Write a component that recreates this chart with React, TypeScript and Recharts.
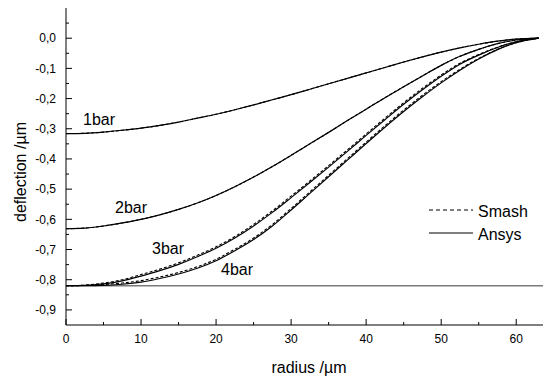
import { LineChart, Line, XAxis, YAxis, ReferenceLine } from "recharts"

// radius in µm, deflection in µm
const radius = [0, 2.5, 5, 7.5, 10, 12.5, 15, 17.5, 20, 22.5, 25, 27.5, 30, 32.5, 35, 37.5, 40, 42.5, 45, 47.5, 50, 52.5, 55, 57.5, 60, 63]

const ansys1 = [-0.316, -0.315, -0.311, -0.305, -0.298, -0.289, -0.278, -0.265, -0.252, -0.237, -0.221, -0.204, -0.187, -0.169, -0.151, -0.133, -0.115, -0.097, -0.079, -0.062, -0.046, -0.032, -0.020, -0.010, -0.003, 0]
const smash1 = [-0.316, -0.315, -0.311, -0.305, -0.298, -0.289, -0.278, -0.265, -0.252, -0.237, -0.221, -0.204, -0.187, -0.169, -0.151, -0.133, -0.115, -0.097, -0.079, -0.062, -0.046, -0.032, -0.020, -0.010, -0.003, 0]
const ansys2 = [-0.631, -0.629, -0.622, -0.612, -0.600, -0.585, -0.567, -0.546, -0.521, -0.492, -0.460, -0.425, -0.388, -0.350, -0.312, -0.273, -0.235, -0.197, -0.161, -0.125, -0.090, -0.060, -0.037, -0.018, -0.006, 0]
const smash2 = [-0.631, -0.629, -0.622, -0.612, -0.600, -0.585, -0.567, -0.546, -0.521, -0.492, -0.460, -0.425, -0.388, -0.350, -0.312, -0.273, -0.235, -0.197, -0.161, -0.125, -0.090, -0.060, -0.037, -0.018, -0.006, 0]
const ansys3 = [-0.820, -0.819, -0.814, -0.804, -0.788, -0.770, -0.749, -0.724, -0.696, -0.662, -0.622, -0.577, -0.528, -0.478, -0.427, -0.375, -0.322, -0.270, -0.219, -0.171, -0.126, -0.086, -0.056, -0.031, -0.012, 0]
const smash3 = [-0.820, -0.818, -0.811, -0.800, -0.783, -0.765, -0.744, -0.719, -0.691, -0.657, -0.617, -0.572, -0.523, -0.473, -0.422, -0.370, -0.317, -0.265, -0.214, -0.166, -0.122, -0.083, -0.054, -0.030, -0.012, 0]
const ansys4 = [-0.820, -0.820, -0.819, -0.815, -0.808, -0.796, -0.781, -0.762, -0.737, -0.704, -0.667, -0.622, -0.569, -0.514, -0.459, -0.404, -0.349, -0.295, -0.243, -0.194, -0.148, -0.106, -0.069, -0.038, -0.015, 0]
const smash4 = [-0.820, -0.819, -0.816, -0.811, -0.803, -0.791, -0.776, -0.757, -0.732, -0.699, -0.662, -0.617, -0.564, -0.509, -0.454, -0.399, -0.344, -0.290, -0.238, -0.189, -0.144, -0.103, -0.067, -0.037, -0.015, 0]

const contactLevel = -0.82

const xTicks = [0, 5, 10, 15, 20, 25, 30, 35, 40, 45, 50, 55, 60]
const yTicks = [0.05, 0, -0.05, -0.1, -0.15, -0.2, -0.25, -0.3, -0.35, -0.4, -0.45, -0.5, -0.55, -0.6, -0.65, -0.7, -0.75, -0.8, -0.85, -0.9]

const pressureLabels = ["1bar", "2bar", "3bar", "4bar"]
const legendNames = ["Smash", "Ansys"]

const data = radius.map((r, i) => ({
  r,
  a1: ansys1[i], s1: smash1[i],
  a2: ansys2[i], s2: smash2[i],
  a3: ansys3[i], s3: smash3[i],
  a4: ansys4[i], s4: smash4[i],
}))

const FONT = "'Liberation Sans', Arial, sans-serif"
const W = 543
const H = 369

const isMajor = (v: number, step: number) => Math.abs(v / step - Math.round(v / step)) < 1e-6

function XTick(props: any) {
  const { x, y, payload } = props
  const major = isMajor(payload.value, 10)
  const axisY = y - 9
  return (
    <g>
      <line x1={x} x2={x} y1={axisY} y2={axisY - (major ? 6 : 3)} stroke="#000" strokeWidth={1} />
      {major && (
        <text x={x} y={y} dy="0.71em" textAnchor="middle" fontSize={12} fontFamily={FONT} fill="#000">
          {payload.value}
        </text>
      )}
    </g>
  )
}

function YTick(props: any) {
  const { x, y, payload } = props
  const v: number = payload.value
  const major = isMajor(v, 0.1)
  const axisX = x + 10
  return (
    <g>
      <line x1={axisX} x2={axisX + (major ? 6 : 3)} y1={y} y2={y} stroke="#000" strokeWidth={1} />
      {major && (
        <text x={x} y={y} dy="0.355em" textAnchor="end" fontSize={12} fontFamily={FONT} fill="#000">
          {v.toFixed(1).replace(".", ",")}
        </text>
      )}
    </g>
  )
}

const series = [
  { a: "a1", s: "s1" },
  { a: "a2", s: "s2" },
  { a: "a3", s: "s3" },
  { a: "a4", s: "s4" },
]

export default function App() {
  return (
    <div style={{ position: "relative", width: W, height: H, background: "#fff" }}>
      <LineChart width={W} height={H} data={data} margin={{ top: 0, right: 1, bottom: 0, left: 0 }}>
        <XAxis
          dataKey="r"
          type="number"
          domain={[0, 64.5]}
          ticks={xTicks}
          interval={0}
          allowDataOverflow
          height={52}
          tickSize={0}
          tickMargin={9}
          tickLine={false}
          axisLine={{ stroke: "#000", strokeWidth: 1 }}
          tick={<XTick />}
        />
        <YAxis
          type="number"
          domain={[-0.95, 0.1]}
          ticks={yTicks}
          interval={0}
          allowDataOverflow
          width={58}
          tickSize={0}
          tickMargin={10}
          tickLine={false}
          axisLine={{ stroke: "#000", strokeWidth: 1 }}
          tick={<YTick />}
        />
        <ReferenceLine y={contactLevel} stroke="#7a7a7a" strokeWidth={1.5} />
        {series.map((s) => (
          <Line key={s.a} type="monotone" dataKey={s.a} stroke="#000" strokeWidth={1.2} dot={false} isAnimationActive={false} />
        ))}
        {series.map((s) => (
          <Line key={s.s} type="monotone" dataKey={s.s} stroke="#000" strokeWidth={1.1} strokeDasharray="3 2" dot={false} isAnimationActive={false} />
        ))}
      </LineChart>
      <svg width={W} height={H} style={{ position: "absolute", left: 0, top: 0, pointerEvents: "none" }}>
        <g fontFamily={FONT} fill="#000" fontSize={16}>
          <text x={75} y={117}>{pressureLabels[0]}</text>
          <text x={107} y={205}>{pressureLabels[1]}</text>
          <text x={144} y={246}>{pressureLabels[2]}</text>
          <text x={213} y={267}>{pressureLabels[3]}</text>

          <line x1={421} x2={465} y1={202} y2={202} stroke="#000" strokeWidth={1} strokeDasharray="4 3" />
          <text x={470} y={209}>{legendNames[0]}</text>
          <line x1={421} x2={465} y1={225} y2={225} stroke="#000" strokeWidth={1.2} />
          <text x={470} y={232}>{legendNames[1]}</text>

          <text x={301} y={359} dy="0.355em" textAnchor="middle">radius /µm</text>
          <text x={12} y={164} dy="0.355em" textAnchor="middle" transform="rotate(-90 12 164)">deflection /µm</text>
        </g>
      </svg>
    </div>
  )
}
